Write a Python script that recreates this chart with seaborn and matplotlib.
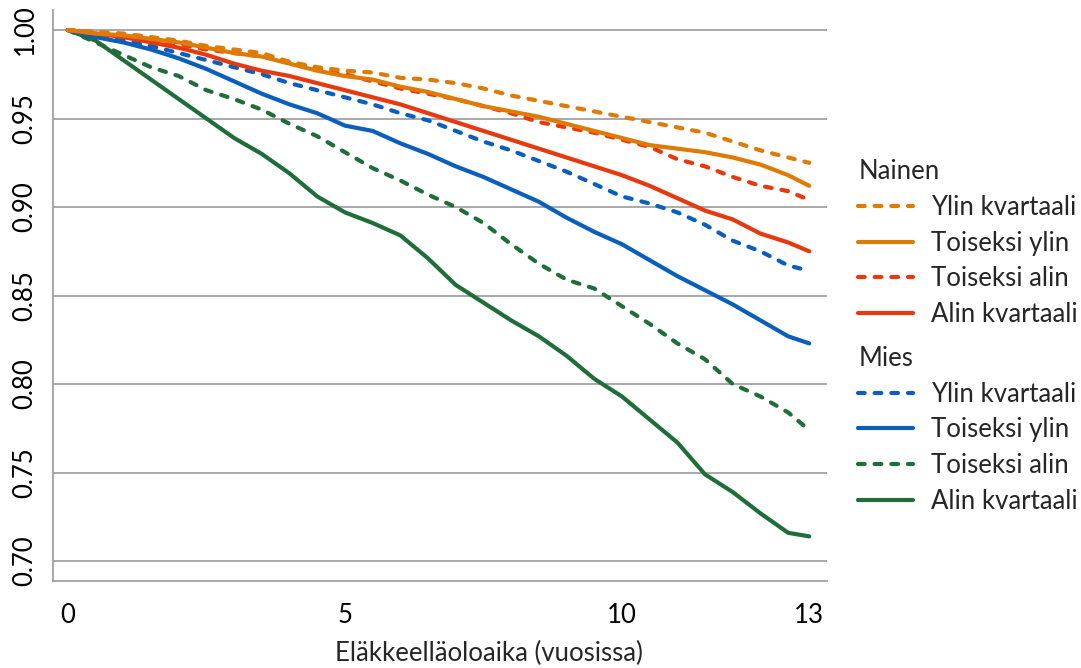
import matplotlib
matplotlib.use("Agg")
import matplotlib.pyplot as plt
from matplotlib.lines import Line2D
import numpy as np
import pandas as pd
import seaborn as sns

# time points (years); the last one is the end of follow-up
years = [0, 0.5, 1, 1.5, 2, 2.5, 3, 3.5, 4, 4.5, 5, 5.5, 6, 6.5, 7, 7.5, 8, 8.5,
         9, 9.5, 10, 10.5, 11, 11.5, 12, 12.5, 13, 13.38]

# Nainen (women)
n_ylin = [1.000, 0.999, 0.998, 0.996, 0.994, 0.991, 0.989, 0.987, 0.982, 0.979,
          0.977, 0.976, 0.973, 0.972, 0.970, 0.967, 0.963, 0.960, 0.957, 0.954,
          0.951, 0.948, 0.945, 0.942, 0.937, 0.932, 0.928, 0.925]
n_toiseksi_ylin = [1.000, 0.998, 0.997, 0.995, 0.993, 0.990, 0.987, 0.985, 0.981, 0.977,
                   0.974, 0.972, 0.968, 0.965, 0.961, 0.957, 0.954, 0.951, 0.947, 0.943,
                   0.939, 0.935, 0.933, 0.931, 0.928, 0.924, 0.918, 0.912]
n_toiseksi_alin = [1.000, 0.998, 0.997, 0.995, 0.992, 0.989, 0.987, 0.985, 0.982, 0.978,
                   0.975, 0.971, 0.967, 0.964, 0.961, 0.957, 0.953, 0.948, 0.945, 0.942,
                   0.938, 0.934, 0.927, 0.923, 0.917, 0.912, 0.909, 0.904]
n_alin = [1.000, 0.998, 0.996, 0.993, 0.990, 0.986, 0.981, 0.977, 0.974, 0.970,
          0.966, 0.962, 0.958, 0.953, 0.948, 0.943, 0.938, 0.933, 0.928, 0.923,
          0.918, 0.912, 0.905, 0.898, 0.893, 0.885, 0.880, 0.875]

# Mies (men)
m_ylin = [1.000, 0.997, 0.994, 0.991, 0.987, 0.983, 0.979, 0.975, 0.970, 0.966,
          0.962, 0.958, 0.953, 0.949, 0.943, 0.937, 0.932, 0.926, 0.920, 0.913,
          0.906, 0.902, 0.897, 0.890, 0.881, 0.875, 0.867, 0.864]
m_toiseksi_ylin = [1.000, 0.996, 0.993, 0.989, 0.984, 0.978, 0.971, 0.964, 0.958, 0.953,
                   0.946, 0.943, 0.936, 0.930, 0.923, 0.917, 0.910, 0.903, 0.894, 0.886,
                   0.879, 0.870, 0.861, 0.853, 0.845, 0.836, 0.827, 0.823]
m_toiseksi_alin = [1.000, 0.993, 0.986, 0.979, 0.974, 0.966, 0.961, 0.955, 0.947, 0.940,
                   0.931, 0.922, 0.915, 0.907, 0.900, 0.891, 0.879, 0.868, 0.859, 0.854,
                   0.844, 0.834, 0.823, 0.814, 0.800, 0.793, 0.784, 0.774]
m_alin = [1.000, 0.994, 0.983, 0.972, 0.961, 0.950, 0.939, 0.930, 0.919, 0.906,
          0.897, 0.891, 0.884, 0.871, 0.856, 0.846, 0.836, 0.827, 0.816, 0.803,
          0.793, 0.780, 0.767, 0.749, 0.739, 0.727, 0.716, 0.714]

labels = ["Ylin kvartaali", "Toiseksi ylin", "Toiseksi alin", "Alin kvartaali"]
xtick_vals = [0, 5, 10, 13.38]
xtick_labels = ["0", "5", "10", "13"]
ytick_vals = [0.70, 0.75, 0.80, 0.85, 0.90, 0.95, 1.00]

ORANGE = "#DF7A04"
RED = "#E8380D"
BLUE = "#0A5EBE"
GREEN = "#1F6E3A"
LW = 3.0
DASH = (0, (1.6, 2.4))
FS = 18.5

series = [
    ("Nainen", labels[0], n_ylin, ORANGE, DASH),
    ("Nainen", labels[1], n_toiseksi_ylin, ORANGE, "-"),
    ("Nainen", labels[2], n_toiseksi_alin, RED, DASH),
    ("Nainen", labels[3], n_alin, RED, "-"),
    ("Mies", labels[0], m_ylin, BLUE, DASH),
    ("Mies", labels[1], m_toiseksi_ylin, BLUE, "-"),
    ("Mies", labels[2], m_toiseksi_alin, GREEN, DASH),
    ("Mies", labels[3], m_alin, GREEN, "-"),
]

sns.set_theme(style="white")
plt.rcParams["font.family"] = ["Lato", "DejaVu Sans"]

fig = plt.figure(figsize=(10.81, 6.68), dpi=100)
ax = fig.add_axes([0.049, 0.130, 0.716, 0.855])

# draw from bottom of legend order to top so the upper curves sit on top
for sex, lab, vals, col, ls in reversed(series):
    df = pd.DataFrame({"t": years, "s": vals})
    sns.lineplot(data=df, x="t", y="s", ax=ax, color=col, lw=LW,
                 linestyle=ls, legend=False)
for ln in ax.get_lines():
    ln.set_dash_capstyle("round")
    ln.set_solid_capstyle("round")
    ln.set_linewidth(LW)

ax.set_xlim(-0.27, 13.70)
ax.set_ylim(0.6887, 1.0113)
ax.set_yticks(ytick_vals)
ax.set_yticklabels([f"{v:.2f}" for v in ytick_vals], rotation=90, va="center")
ax.set_xticks(xtick_vals)
ax.set_xticklabels(xtick_labels)
ax.set_xlabel("Eläkkeelläoloaika (vuosissa)", fontsize=FS, va="center")
ax.xaxis.set_label_coords(0.563, -0.126)
ax.set_ylabel("")

ax.grid(axis="y", color="#999999", linewidth=1.2)
ax.grid(axis="x", visible=False)
ax.set_axisbelow(True)
for side in ["top", "right"]:
    ax.spines[side].set_visible(False)
for side in ["left", "bottom"]:
    ax.spines[side].set_color("#999999")
    ax.spines[side].set_linewidth(1.2)
ax.tick_params(axis="both", which="major", labelsize=FS, colors="#999999",
               labelcolor="black", length=8, width=1.2, direction="out")
ax.tick_params(axis="x", length=9, pad=7)
ax.tick_params(axis="y", length=7, pad=4)

def make_legend(sex, y_anchor):
    handles = [Line2D([], [], color=c, linestyle=l, linewidth=LW,
                      dash_capstyle="round")
               for s, lab, v, c, l in series if s == sex]
    lg = ax.legend(handles, labels, title=sex, loc="upper left",
                   bbox_to_anchor=(1.027, y_anchor), bbox_transform=ax.transAxes,
                   frameon=False, fontsize=FS, title_fontsize=FS,
                   alignment="left", handlelength=2.15, handletextpad=0.7,
                   labelspacing=0.42, borderaxespad=0)
    return lg

leg1 = make_legend("Nainen", 0.757)
ax.add_artist(leg1)
leg2 = make_legend("Mies", 0.43)

fig.savefig("out.png", dpi=100)
